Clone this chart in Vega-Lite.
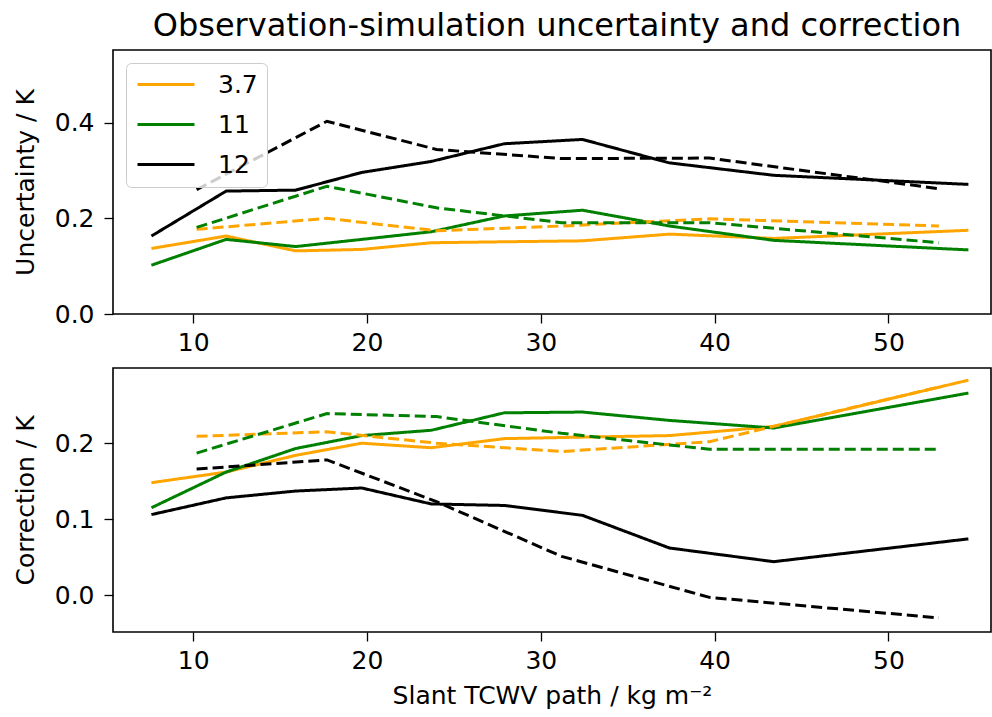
{
  "$schema": "https://vega.github.io/schema/vega-lite/v6.json",
  "background": "white",
  "padding": {"left": 12, "top": 9, "right": 2, "bottom": 4},
  "spacing": 11,
  "config": {
    "font": "DejaVu Sans",
    "view": {"stroke": "black", "strokeWidth": 1.6},
    "axis": {
      "grid": false, "domain": false, "tickColor": "black", "tickWidth": 1.3, "tickSize": 9,
      "labelFontSize": 25, "labelColor": "black", "labelPadding": 7, "labelFont": "DejaVu Sans",
      "titleFontSize": 25, "titleFontWeight": "normal", "titleColor": "black", "titleFont": "DejaVu Sans", "titlePadding": 19
    },
    "axisY": {"labelPadding": 10, "titlePadding": 16}
  },
  "datasets": {
    "all": [
      {"panel": "unc", "band": "3.7", "style": "solid", "x": 7.6, "y": 0.137},
      {"panel": "unc", "band": "3.7", "style": "solid", "x": 11.9, "y": 0.163},
      {"panel": "unc", "band": "3.7", "style": "solid", "x": 15.9, "y": 0.132},
      {"panel": "unc", "band": "3.7", "style": "solid", "x": 19.7, "y": 0.135},
      {"panel": "unc", "band": "3.7", "style": "solid", "x": 23.7, "y": 0.149},
      {"panel": "unc", "band": "3.7", "style": "solid", "x": 27.9, "y": 0.151},
      {"panel": "unc", "band": "3.7", "style": "solid", "x": 32.4, "y": 0.153},
      {"panel": "unc", "band": "3.7", "style": "solid", "x": 37.4, "y": 0.167},
      {"panel": "unc", "band": "3.7", "style": "solid", "x": 43.4, "y": 0.158},
      {"panel": "unc", "band": "3.7", "style": "solid", "x": 54.6, "y": 0.175},
      {"panel": "unc", "band": "11", "style": "solid", "x": 7.6, "y": 0.102},
      {"panel": "unc", "band": "11", "style": "solid", "x": 11.9, "y": 0.156},
      {"panel": "unc", "band": "11", "style": "solid", "x": 15.9, "y": 0.141},
      {"panel": "unc", "band": "11", "style": "solid", "x": 19.7, "y": 0.156},
      {"panel": "unc", "band": "11", "style": "solid", "x": 23.7, "y": 0.172},
      {"panel": "unc", "band": "11", "style": "solid", "x": 27.9, "y": 0.205},
      {"panel": "unc", "band": "11", "style": "solid", "x": 32.4, "y": 0.217},
      {"panel": "unc", "band": "11", "style": "solid", "x": 37.4, "y": 0.184},
      {"panel": "unc", "band": "11", "style": "solid", "x": 43.4, "y": 0.154},
      {"panel": "unc", "band": "11", "style": "solid", "x": 54.6, "y": 0.134},
      {"panel": "unc", "band": "12", "style": "solid", "x": 7.6, "y": 0.163},
      {"panel": "unc", "band": "12", "style": "solid", "x": 11.9, "y": 0.257},
      {"panel": "unc", "band": "12", "style": "solid", "x": 15.9, "y": 0.259},
      {"panel": "unc", "band": "12", "style": "solid", "x": 19.7, "y": 0.296},
      {"panel": "unc", "band": "12", "style": "solid", "x": 23.7, "y": 0.319},
      {"panel": "unc", "band": "12", "style": "solid", "x": 27.9, "y": 0.356},
      {"panel": "unc", "band": "12", "style": "solid", "x": 32.4, "y": 0.365},
      {"panel": "unc", "band": "12", "style": "solid", "x": 37.4, "y": 0.316},
      {"panel": "unc", "band": "12", "style": "solid", "x": 43.4, "y": 0.290},
      {"panel": "unc", "band": "12", "style": "solid", "x": 54.6, "y": 0.271},
      {"panel": "unc", "band": "3.7", "style": "dashed", "x": 10.2, "y": 0.177},
      {"panel": "unc", "band": "3.7", "style": "dashed", "x": 17.7, "y": 0.200},
      {"panel": "unc", "band": "3.7", "style": "dashed", "x": 24.0, "y": 0.174},
      {"panel": "unc", "band": "3.7", "style": "dashed", "x": 31.2, "y": 0.184},
      {"panel": "unc", "band": "3.7", "style": "dashed", "x": 39.7, "y": 0.199},
      {"panel": "unc", "band": "3.7", "style": "dashed", "x": 52.9, "y": 0.184},
      {"panel": "unc", "band": "11", "style": "dashed", "x": 10.2, "y": 0.181},
      {"panel": "unc", "band": "11", "style": "dashed", "x": 17.7, "y": 0.267},
      {"panel": "unc", "band": "11", "style": "dashed", "x": 24.0, "y": 0.222},
      {"panel": "unc", "band": "11", "style": "dashed", "x": 31.2, "y": 0.191},
      {"panel": "unc", "band": "11", "style": "dashed", "x": 39.7, "y": 0.191},
      {"panel": "unc", "band": "11", "style": "dashed", "x": 52.9, "y": 0.149},
      {"panel": "unc", "band": "12", "style": "dashed", "x": 10.2, "y": 0.260},
      {"panel": "unc", "band": "12", "style": "dashed", "x": 17.7, "y": 0.403},
      {"panel": "unc", "band": "12", "style": "dashed", "x": 24.0, "y": 0.344},
      {"panel": "unc", "band": "12", "style": "dashed", "x": 31.2, "y": 0.325},
      {"panel": "unc", "band": "12", "style": "dashed", "x": 39.7, "y": 0.326},
      {"panel": "unc", "band": "12", "style": "dashed", "x": 52.9, "y": 0.262},
      {"panel": "corr", "band": "3.7", "style": "solid", "x": 7.6, "y": 0.148},
      {"panel": "corr", "band": "3.7", "style": "solid", "x": 11.9, "y": 0.162},
      {"panel": "corr", "band": "3.7", "style": "solid", "x": 15.9, "y": 0.184},
      {"panel": "corr", "band": "3.7", "style": "solid", "x": 19.7, "y": 0.200},
      {"panel": "corr", "band": "3.7", "style": "solid", "x": 23.7, "y": 0.194},
      {"panel": "corr", "band": "3.7", "style": "solid", "x": 27.9, "y": 0.206},
      {"panel": "corr", "band": "3.7", "style": "solid", "x": 32.4, "y": 0.208},
      {"panel": "corr", "band": "3.7", "style": "solid", "x": 37.4, "y": 0.210},
      {"panel": "corr", "band": "3.7", "style": "solid", "x": 43.4, "y": 0.222},
      {"panel": "corr", "band": "3.7", "style": "solid", "x": 54.6, "y": 0.283},
      {"panel": "corr", "band": "11", "style": "solid", "x": 7.6, "y": 0.115},
      {"panel": "corr", "band": "11", "style": "solid", "x": 11.9, "y": 0.162},
      {"panel": "corr", "band": "11", "style": "solid", "x": 15.9, "y": 0.193},
      {"panel": "corr", "band": "11", "style": "solid", "x": 19.7, "y": 0.210},
      {"panel": "corr", "band": "11", "style": "solid", "x": 23.7, "y": 0.217},
      {"panel": "corr", "band": "11", "style": "solid", "x": 27.9, "y": 0.240},
      {"panel": "corr", "band": "11", "style": "solid", "x": 32.4, "y": 0.241},
      {"panel": "corr", "band": "11", "style": "solid", "x": 37.4, "y": 0.230},
      {"panel": "corr", "band": "11", "style": "solid", "x": 43.4, "y": 0.220},
      {"panel": "corr", "band": "11", "style": "solid", "x": 54.6, "y": 0.266},
      {"panel": "corr", "band": "12", "style": "solid", "x": 7.6, "y": 0.106},
      {"panel": "corr", "band": "12", "style": "solid", "x": 11.9, "y": 0.128},
      {"panel": "corr", "band": "12", "style": "solid", "x": 15.9, "y": 0.137},
      {"panel": "corr", "band": "12", "style": "solid", "x": 19.7, "y": 0.141},
      {"panel": "corr", "band": "12", "style": "solid", "x": 23.7, "y": 0.120},
      {"panel": "corr", "band": "12", "style": "solid", "x": 27.9, "y": 0.118},
      {"panel": "corr", "band": "12", "style": "solid", "x": 32.4, "y": 0.105},
      {"panel": "corr", "band": "12", "style": "solid", "x": 37.4, "y": 0.062},
      {"panel": "corr", "band": "12", "style": "solid", "x": 43.4, "y": 0.044},
      {"panel": "corr", "band": "12", "style": "solid", "x": 54.6, "y": 0.074},
      {"panel": "corr", "band": "3.7", "style": "dashed", "x": 10.2, "y": 0.209},
      {"panel": "corr", "band": "3.7", "style": "dashed", "x": 17.7, "y": 0.215},
      {"panel": "corr", "band": "3.7", "style": "dashed", "x": 24.0, "y": 0.200},
      {"panel": "corr", "band": "3.7", "style": "dashed", "x": 31.2, "y": 0.189},
      {"panel": "corr", "band": "3.7", "style": "dashed", "x": 39.7, "y": 0.202},
      {"panel": "corr", "band": "3.7", "style": "dashed", "x": 52.9, "y": 0.274},
      {"panel": "corr", "band": "11", "style": "dashed", "x": 10.2, "y": 0.187},
      {"panel": "corr", "band": "11", "style": "dashed", "x": 17.7, "y": 0.239},
      {"panel": "corr", "band": "11", "style": "dashed", "x": 24.0, "y": 0.235},
      {"panel": "corr", "band": "11", "style": "dashed", "x": 31.2, "y": 0.213},
      {"panel": "corr", "band": "11", "style": "dashed", "x": 39.7, "y": 0.192},
      {"panel": "corr", "band": "11", "style": "dashed", "x": 52.9, "y": 0.192},
      {"panel": "corr", "band": "12", "style": "dashed", "x": 10.2, "y": 0.166},
      {"panel": "corr", "band": "12", "style": "dashed", "x": 17.7, "y": 0.178},
      {"panel": "corr", "band": "12", "style": "dashed", "x": 24.0, "y": 0.123},
      {"panel": "corr", "band": "12", "style": "dashed", "x": 31.2, "y": 0.051},
      {"panel": "corr", "band": "12", "style": "dashed", "x": 39.7, "y": -0.003},
      {"panel": "corr", "band": "12", "style": "dashed", "x": 52.9, "y": -0.030}
    ]
  },
  "data": {"name": "all"},
  "resolve": {"legend": {"color": "independent", "strokeDash": "independent"}},
  "vconcat": [
    {
      "title": {"text": "Observation-simulation uncertainty and correction", "fontSize": 32, "fontWeight": "normal", "font": "DejaVu Sans", "color": "black", "frame": "group", "anchor": "middle", "offset": 7, "dx": 5},
      "width": 878,
      "height": 264,
      "transform": [{"filter": "datum.panel == 'unc'"}],
      "mark": {"type": "line", "strokeWidth": 3},
      "encoding": {
        "x": {"field": "x", "type": "quantitative", "scale": {"domain": [5.39, 55.9], "nice": false, "zero": false}, "axis": {"values": [10, 20, 30, 40, 50], "title": null}},
        "y": {"field": "y", "type": "quantitative", "scale": {"domain": [0, 0.552], "nice": false, "zero": false}, "axis": {"values": [0, 0.2, 0.4], "format": ".1f", "title": "Uncertainty / K"}},
        "color": {"field": "band", "type": "nominal", "scale": {"domain": ["3.7", "11", "12"], "range": ["#FFA500", "#008000", "#000000"]},
          "legend": {"orient": "top-left", "offset": 13, "title": null, "symbolType": "M-1,0H4.7", "symbolSize": 400, "symbolStrokeWidth": 3, "labelFontSize": 25, "labelFont": "DejaVu Sans", "labelColor": "black", "labelOffset": 58, "fillColor": "rgba(255,255,255,0.8)", "strokeColor": "#cccccc", "cornerRadius": 5, "padding": 9, "rowPadding": 14}},
        "strokeDash": {"field": "style", "type": "nominal", "scale": {"domain": ["solid", "dashed"], "range": [[1, 0], [11, 5]]}, "legend": null}
      }
    },
    {
      "width": 878,
      "height": 264,
      "transform": [{"filter": "datum.panel == 'corr'"}],
      "mark": {"type": "line", "strokeWidth": 3},
      "encoding": {
        "x": {"field": "x", "type": "quantitative", "scale": {"domain": [5.39, 55.9], "nice": false, "zero": false}, "axis": {"values": [10, 20, 30, 40, 50], "title": "Slant TCWV path / kg m⁻²", "titlePadding": 10}},
        "y": {"field": "y", "type": "quantitative", "scale": {"domain": [-0.0486, 0.299], "nice": false, "zero": false}, "axis": {"values": [0, 0.1, 0.2], "format": ".1f", "title": "Correction / K"}},
        "color": {"field": "band", "type": "nominal", "scale": {"domain": ["3.7", "11", "12"], "range": ["#FFA500", "#008000", "#000000"]}, "legend": null},
        "strokeDash": {"field": "style", "type": "nominal", "scale": {"domain": ["solid", "dashed"], "range": [[1, 0], [11, 5]]}, "legend": null}
      }
    }
  ]
}
